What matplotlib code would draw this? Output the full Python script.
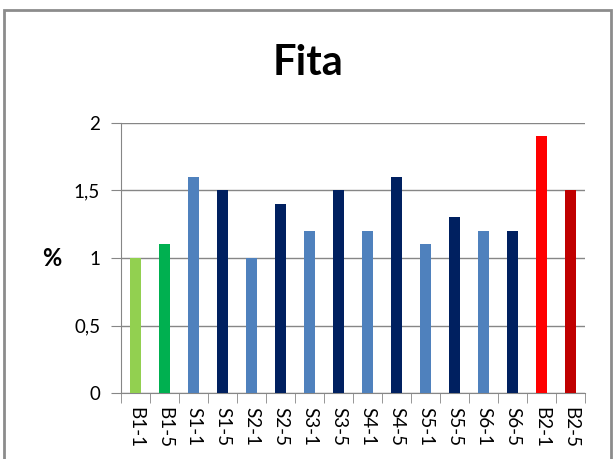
import matplotlib
matplotlib.use('Agg')
import matplotlib.pyplot as plt
import matplotlib.ticker as ticker
from matplotlib.patches import Rectangle

labels = ['B1-1', 'B1-5', 'S1-1', 'S1-5', 'S2-1', 'S2-5', 'S3-1', 'S3-5',
          'S4-1', 'S4-5', 'S5-1', 'S5-5', 'S6-1', 'S6-5', 'B2-1', 'B2-5']
values = [1.0, 1.1, 1.6, 1.5, 1.0, 1.4, 1.2, 1.5,
          1.2, 1.6, 1.1, 1.3, 1.2, 1.2, 1.9, 1.5]
colors = ['#92D050', '#00B050'] + ['#4F81BD', '#002060'] * 6 + ['#FF0000', '#C00000']

plt.rcParams['font.family'] = ['Lato', 'DejaVu Sans']

fig = plt.figure(figsize=(6.16, 4.59), dpi=100)
ax = fig.add_axes([121 / 616, 66 / 459, 464 / 616, 270 / 459])

x = range(len(labels))
ax.bar(x, values, width=0.4, color=colors, zorder=3)

ax.set_xlim(-0.5, len(labels) - 0.5)
ax.set_ylim(0, 2)
ax.set_yticks([0, 0.5, 1, 1.5, 2])
ax.yaxis.set_major_formatter(ticker.FuncFormatter(
    lambda v, p: ('%g' % v).replace('.', ',')))
ax.grid(axis='y', color='#868686', linewidth=1, zorder=0)

ax.set_xticks(list(x))
ax.set_xticklabels(labels, rotation=-90, fontsize=13.5)
ax.set_xticks([i - 0.5 for i in range(len(labels) + 1)], minor=True)
ax.tick_params(axis='x', which='major', length=0, pad=10)
ax.tick_params(axis='x', which='minor', length=7, color='#868686')
ax.tick_params(axis='y', length=7, color='#868686', labelsize=13.5, pad=8)

for s in ['top', 'right']:
    ax.spines[s].set_visible(False)
for s in ['left', 'bottom']:
    ax.spines[s].set_color('#868686')

fig.text(52 / 616, 1 - 258 / 459, '%', ha='center', va='center',
         fontsize=17, fontweight='bold')
fig.text(308 / 616, 1 - 75 / 459, 'Fita', ha='center', va='baseline',
         fontsize=30, fontweight='bold')

fig.patches.append(Rectangle((4 / 616, -0.05), 607 / 616, 1 - 10 / 459 + 0.05,
                             transform=fig.transFigure, fill=False,
                             edgecolor='#8c8c8c', linewidth=2))

fig.savefig('out.png', dpi=100)
